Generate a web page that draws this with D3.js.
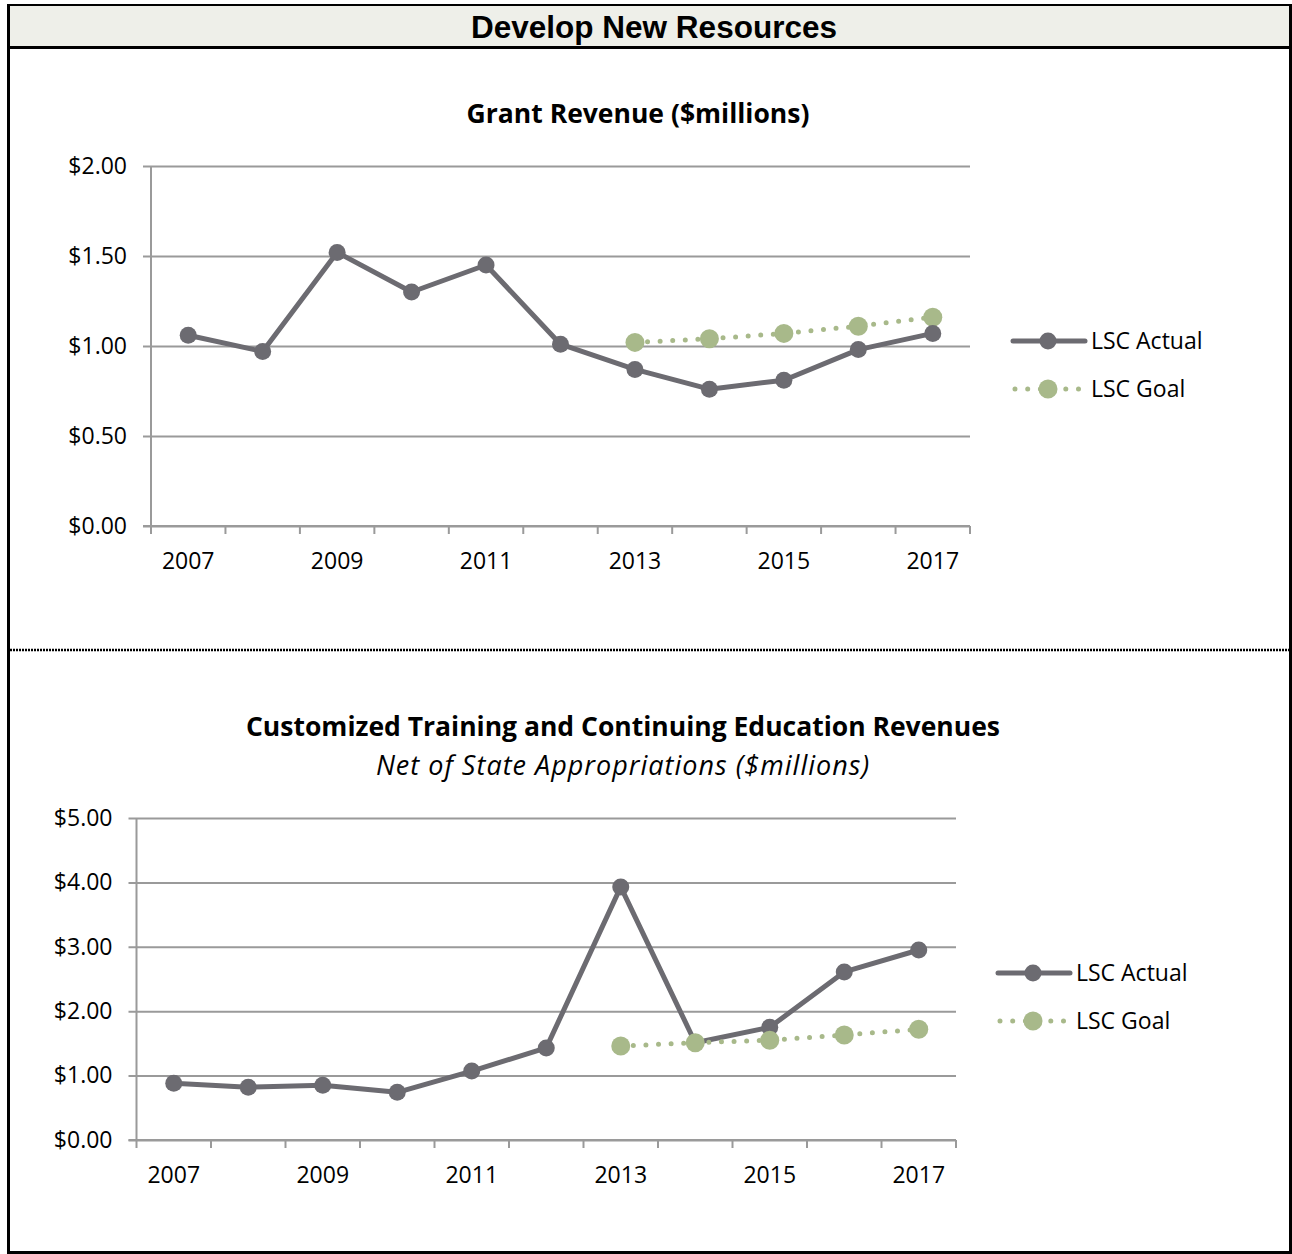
<!DOCTYPE html>
<html>
<head>
<meta charset="utf-8">
<script src="https://cdn.jsdelivr.net/npm/d3@7"></script>
<style>
  body { margin: 0; background: #fff; }
  text { font-family: "Open Sans", sans-serif; fill: #000; }
</style>
</head>
<body>
<div id="container"></div>
<script>
// chart data
const years = ['2007', '2008', '2009', '2010', '2011', '2012', '2013', '2014', '2015', '2016', '2017'];
const yearLabels = ['2007', '2009', '2011', '2013', '2015', '2017'];

const grantActual = [1.06, 0.97, 1.52, 1.30, 1.45, 1.01, 0.87, 0.76, 0.81, 0.98, 1.07];
const grantGoalYears = ['2013', '2014', '2015', '2016', '2017'];
const grantGoal = [1.02, 1.04, 1.07, 1.11, 1.16];
const grantTicks = [0, 0.5, 1, 1.5, 2];

const trainActual = [0.88, 0.82, 0.85, 0.74, 1.07, 1.43, 3.93, 1.51, 1.75, 2.61, 2.95];
const trainGoalYears = ['2013', '2014', '2015', '2016', '2017'];
const trainGoal = [1.46, 1.51, 1.55, 1.63, 1.72];
const trainTicks = [0, 1, 2, 3, 4, 5];

const seriesNames = ['LSC Actual', 'LSC Goal'];

const WIDTH = 1292;
const HEIGHT = 1254;
const ACTUAL_COLOR = '#6c6b71';
const GOAL_COLOR = '#a8b98a';
const GRID_COLOR = '#9a9a9a';
const LABEL_SIZE = '23px';

const svg = d3.select('#container')
    .append('svg')
    .attr('width', WIDTH)
    .attr('height', HEIGHT);

// frame and header band
svg.append('rect')
    .attr('x', 9).attr('y', 5).attr('width', 1281).attr('height', 42)
    .attr('fill', '#eeefe9');
svg.append('line').attr('x1', 7).attr('x2', 1292).attr('y1', 5).attr('y2', 5)
    .attr('stroke', '#000').attr('stroke-width', 2);
svg.append('line').attr('x1', 7).attr('x2', 1292).attr('y1', 47.5).attr('y2', 47.5)
    .attr('stroke', '#000').attr('stroke-width', 3);
svg.append('line').attr('x1', 8.5).attr('x2', 8.5).attr('y1', 4).attr('y2', 1254)
    .attr('stroke', '#000').attr('stroke-width', 3);
svg.append('line').attr('x1', 1290.5).attr('x2', 1290.5).attr('y1', 4).attr('y2', 1254)
    .attr('stroke', '#000').attr('stroke-width', 3);
svg.append('line').attr('x1', 7).attr('x2', 1292).attr('y1', 1252.5).attr('y2', 1252.5)
    .attr('stroke', '#000').attr('stroke-width', 3);
svg.append('line').attr('x1', 10).attr('x2', 1292).attr('y1', 650).attr('y2', 650)
    .attr('stroke', '#000').attr('stroke-width', 2.5).attr('stroke-dasharray', '2,1');

svg.append('text')
    .attr('x', 654).attr('y', 38)
    .attr('text-anchor', 'middle')
    .style('font-family', '"Liberation Sans", Arial, sans-serif')
    .style('font-weight', 'bold')
    .style('font-size', '31.5px')
    .text('Develop New Resources');

function drawChart(opts) {
    const g = svg.append('g');

    const x = d3.scaleBand()
        .domain(years)
        .range([opts.left, opts.right]);

    const y = d3.scaleLinear()
        .domain([0, d3.max(opts.ticks)])
        .range([opts.bottom, opts.top]);

    // title
    g.append('text')
        .attr('x', opts.titleX).attr('y', opts.titleY)
        .attr('text-anchor', 'middle')
        .style('font-weight', 'bold')
        .style('font-size', '26.5px')
        .text(opts.title);
    if (opts.subtitle) {
        g.append('text')
            .attr('x', opts.titleX).attr('y', opts.titleY + 39)
            .attr('text-anchor', 'middle')
            .style('font-style', 'italic')
            .style('font-size', '27px')
            .style('letter-spacing', '1px')
            .text(opts.subtitle);
    }

    // gridlines + left axis
    const yAxis = d3.axisLeft(y)
        .tickValues(opts.ticks)
        .tickSize(-(opts.right - opts.left))
        .tickPadding(24)
        .tickFormat(d3.format('$.2f'));
    const ya = g.append('g')
        .attr('transform', `translate(${opts.left},0)`)
        .call(yAxis);
    ya.select('.domain').remove();
    ya.selectAll('.tick line')
        .attr('x1', -8)
        .attr('stroke', GRID_COLOR)
        .attr('stroke-width', 2);
    ya.selectAll('.tick text')
        .style('font-size', LABEL_SIZE)
        .attr('fill', '#000');

    g.append('line')
        .attr('x1', opts.left).attr('x2', opts.left)
        .attr('y1', y(d3.max(opts.ticks))).attr('y2', opts.bottom)
        .attr('stroke', GRID_COLOR).attr('stroke-width', 2);

    // bottom axis ticks at band edges
    const edges = years.map(d => x(d)).concat([opts.right]);
    g.selectAll('.xtick')
        .data(edges)
        .enter()
        .append('line')
        .attr('class', 'xtick')
        .attr('x1', d => d).attr('x2', d => d)
        .attr('y1', opts.bottom).attr('y2', opts.bottom + 8)
        .attr('stroke', GRID_COLOR).attr('stroke-width', 2);
    g.append('line')
        .attr('x1', opts.left - 8).attr('x2', opts.right)
        .attr('y1', opts.bottom).attr('y2', opts.bottom)
        .attr('stroke', GRID_COLOR).attr('stroke-width', 2);

    g.selectAll('.xlabel')
        .data(yearLabels)
        .enter()
        .append('text')
        .attr('class', 'xlabel')
        .attr('x', d => x(d) + x.bandwidth() / 2)
        .attr('y', opts.bottom + 43)
        .attr('text-anchor', 'middle')
        .style('font-size', LABEL_SIZE)
        .text(d => d);

    const line = d3.line()
        .x(d => x(d[0]) + x.bandwidth() / 2)
        .y(d => y(d[1]));

    const actual = years.map((d, i) => [d, opts.actual[i]]);
    const goal = opts.goalYears.map((d, i) => [d, opts.goal[i]]);

    function drawActual() {
        g.append('path')
            .datum(actual)
            .attr('fill', 'none')
            .attr('stroke', ACTUAL_COLOR)
            .attr('stroke-width', 5)
            .attr('stroke-linejoin', 'round')
            .attr('d', line);
        g.selectAll('.pa')
            .data(actual)
            .enter()
            .append('circle')
            .attr('class', 'pa')
            .attr('cx', d => x(d[0]) + x.bandwidth() / 2)
            .attr('cy', d => y(d[1]))
            .attr('r', 8.5)
            .attr('fill', ACTUAL_COLOR);
    }
    function drawGoal() {
        g.append('path')
            .datum(goal)
            .attr('fill', 'none')
            .attr('stroke', GOAL_COLOR)
            .attr('stroke-width', 5)
            .attr('stroke-linecap', 'round')
            .attr('stroke-dasharray', '0,12.6')
            .attr('d', line);
        g.selectAll('.pg')
            .data(goal)
            .enter()
            .append('circle')
            .attr('class', 'pg')
            .attr('cx', d => x(d[0]) + x.bandwidth() / 2)
            .attr('cy', d => y(d[1]))
            .attr('r', 9.5)
            .attr('fill', GOAL_COLOR);
    }
    if (opts.goalOnTop) { drawActual(); drawGoal(); }
    else { drawGoal(); drawActual(); }

    // legend
    const lg = g.append('g')
        .attr('transform', `translate(${opts.legendX},${opts.legendY})`);
    seriesNames.forEach((name, i) => {
        const row = lg.append('g').attr('transform', `translate(0,${i * 48})`);
        const isGoal = i === 1;
        row.append('line')
            .attr('x1', isGoal ? 2 : 0).attr('x2', 72)
            .attr('y1', 0).attr('y2', 0)
            .attr('stroke', isGoal ? GOAL_COLOR : ACTUAL_COLOR)
            .attr('stroke-width', 5)
            .attr('stroke-linecap', 'round')
            .attr('stroke-dasharray', isGoal ? '0,12.7' : null);
        row.append('circle')
            .attr('cx', 35).attr('cy', 0)
            .attr('r', isGoal ? 9.5 : 8.5)
            .attr('fill', isGoal ? GOAL_COLOR : ACTUAL_COLOR);
        row.append('text')
            .attr('x', 78).attr('y', 0)
            .attr('dy', '0.35em')
            .style('font-size', LABEL_SIZE)
            .text(name);
    });
}

drawChart({
    title: 'Grant Revenue ($millions)',
    titleX: 638, titleY: 123,
    left: 151, right: 970, top: 166, bottom: 526,
    ticks: grantTicks,
    actual: grantActual,
    goalYears: grantGoalYears,
    goal: grantGoal,
    goalOnTop: false,
    legendX: 1013, legendY: 341
});

drawChart({
    title: 'Customized Training and Continuing Education Revenues',
    subtitle: 'Net of State Appropriations ($millions)',
    titleX: 623, titleY: 736,
    left: 136.5, right: 956, top: 818, bottom: 1140,
    ticks: trainTicks,
    actual: trainActual,
    goalYears: trainGoalYears,
    goal: trainGoal,
    goalOnTop: true,
    legendX: 998, legendY: 973
});
</script>
</body>
</html>
